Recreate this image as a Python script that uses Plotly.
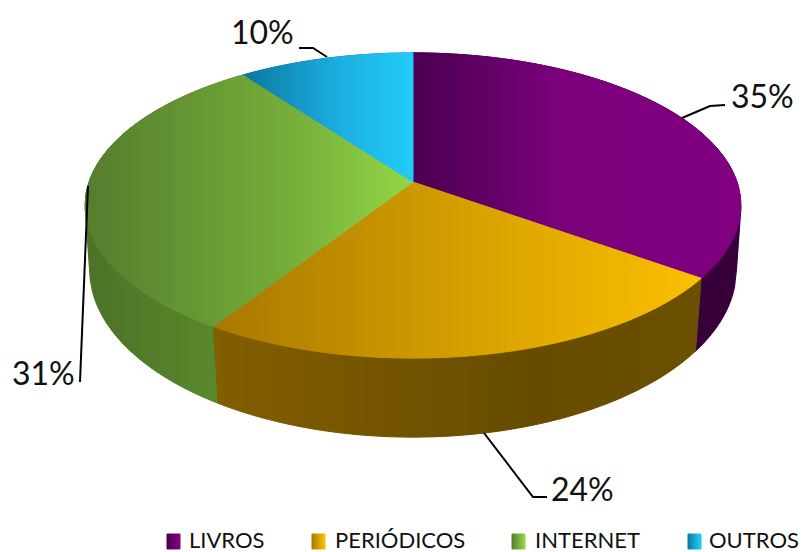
import math
import plotly.graph_objects as go

# ---- data ----
categories = ["LIVROS", "PERIÓDICOS", "INTERNET", "OUTROS"]
values = [35, 24, 31, 10]

# ---- style: colour stops (fraction across the slice, colour) ----
top_stops = [
    [(0, "#4a0050"), (0.45, "#7c007c"), (1, "#800080")],
    [(0, "#a87800"), (0.55, "#d9a200"), (1, "#fac000")],
    [(0, "#557d2e"), (0.6, "#74ab38"), (1, "#92d646")],
    [(0, "#0b78a0"), (0.55, "#1badde"), (1, "#22ccf8")],
]
side_stops = [
    [(0, "#38003a"), (1, "#38003a")],
    [(0, "#835e00"), (0.65, "#674c00"), (1, "#6a5000")],
    [(0, "#4b7226"), (1, "#5e8c2e")],
    [(0, "#0b78a0"), (1, "#0b78a0")],
]
legend_stops = [
    [(0, "#4a0050"), (1, "#800080")],
    [(0, "#a87800"), (1, "#fac000")],
    [(0, "#557d2e"), (1, "#92d646")],
    [(0, "#0b78a0"), (1, "#22ccf8")],
]
# rim geometry: centre x, centre y, x radius, y radius, perspective
UPPER = (413, 182, 324, 149, 0.154)
LOWER = (413, 246, 320, 164, 0.142)
# label centre positions
label_pos = [(762, 95), (582, 488), (43, 372), (262, 31)]
# leader polylines
leaders = [
    [(682, 118), (710, 106), (725, 105)],
    [(484, 433), (533, 497), (547, 497)],
    [(88, 186), (80, 382)],
    [(327, 57), (313, 48), (299, 48)],
]
legend_swatch_x = [167, 312, 512, 688]
legend_text_x = [187, 333, 533, 707]
LEG_Y0 = 534
WALL_ORDER = [0, 3, 2, 1]  # back to front


def project(rim, t):
    cx, cy, a, b, k = rim
    d = 1 + k * math.cos(t)
    return (cx + a * math.sin(t) / d, cy - b * math.cos(t) / d)


def arc(rim, t0, t1):
    n = max(4, int(abs(t1 - t0) / 0.01))
    return [project(rim, t0 + (t1 - t0) * i / n) for i in range(n + 1)]


def hull(points):
    pts = sorted(set(points))

    def half(seq):
        h = []
        for p in seq:
            while len(h) >= 2 and (h[-1][0] - h[-2][0]) * (p[1] - h[-2][1]) - (h[-1][1] - h[-2][1]) * (p[0] - h[-2][0]) <= 0:
                h.pop()
            h.append(p)
        return h[:-1]

    return half(pts) + half(pts[::-1])


def clip(poly, xv, keep_right):
    out = []
    inside = (lambda p: p[0] >= xv) if keep_right else (lambda p: p[0] <= xv)
    for i, p in enumerate(poly):
        q = poly[(i + 1) % len(poly)]
        if inside(p):
            out.append(p)
        if inside(p) != inside(q):
            f = (xv - p[0]) / (q[0] - p[0])
            out.append((xv, p[1] + f * (q[1] - p[1])))
    return out


def rgb(h):
    return [int(h[i:i + 2], 16) for i in (1, 3, 5)]


def colour(stops, f):
    f = min(1, max(0, f))
    for (f0, c0), (f1, c1) in zip(stops, stops[1:]):
        if f <= f1:
            u = (f - f0) / (f1 - f0) if f1 > f0 else 0
            a, b = rgb(c0), rgb(c1)
            return "rgb(%d,%d,%d)" % tuple(round(a[i] + (b[i] - a[i]) * u) for i in range(3))
    return stops[-1][1]


fig = go.Figure()


def gradient(poly, stops, step=2):
    xs = [p[0] for p in poly]
    x0, x1 = min(xs), max(xs)
    x = math.floor(x0) - 0.5
    while x < x1:
        part = clip(clip(poly, x, True), x + step, False)
        if len(part) >= 3:
            c = colour(stops, (x + step / 2 - x0) / (x1 - x0))
            fig.add_trace(go.Scatter(
                x=[p[0] for p in part] + [part[0][0]],
                y=[p[1] for p in part] + [part[0][1]],
                mode="lines", fill="toself", fillcolor=c,
                line=dict(color=c, width=1),
                hoverinfo="skip", showlegend=False))
        x += step


total = sum(values)
angles = [0]
for v in values:
    angles.append(angles[-1] + 2 * math.pi * v / total)

# side walls, then the top face over them
for i in WALL_ORDER:
    t0, t1 = angles[i], angles[i + 1]
    gradient(hull(arc(UPPER, t0, t1) + arc(LOWER, t0, t1)), side_stops[i])
for i in range(len(values)):
    t0, t1 = angles[i], angles[i + 1]
    gradient([(UPPER[0], UPPER[1])] + arc(UPPER, t0, t1), top_stops[i])

# leaders
for pts in leaders:
    fig.add_trace(go.Scatter(x=[p[0] for p in pts], y=[p[1] for p in pts], mode="lines",
                             line=dict(color="#000000", width=2),
                             hoverinfo="skip", showlegend=False))

annotations = []
for v, (x, y) in zip(values, label_pos):
    annotations.append(dict(x=x, y=y, xref="x", yref="y", text=f"{v}%", showarrow=False,
                            font=dict(family="Lato", size=32, color="#111111"),
                            xanchor="center", yanchor="middle"))

# legend
for name, sx, tx, stops in zip(categories, legend_swatch_x, legend_text_x, legend_stops):
    gradient([(sx, LEG_Y0), (sx + 13, LEG_Y0), (sx + 13, LEG_Y0 + 15), (sx, LEG_Y0 + 15)], stops, step=2)
    annotations.append(dict(x=tx, y=539, xref="x", yref="y", text=name, showarrow=False,
                            font=dict(family="Lato", size=22, color="#111111"),
                            xanchor="left", yanchor="middle"))

fig.update_layout(
    width=802, height=552, margin=dict(l=0, r=0, t=0, b=0),
    paper_bgcolor="white", plot_bgcolor="white", showlegend=False,
    xaxis=dict(range=[0, 802], visible=False, fixedrange=True),
    yaxis=dict(range=[552, 0], visible=False, fixedrange=True),
    annotations=annotations,
)
fig.write_html("out.html", config={"displayModeBar": False},
               post_script="document.body.style.margin='0';document.documentElement.style.overflow='hidden';")
